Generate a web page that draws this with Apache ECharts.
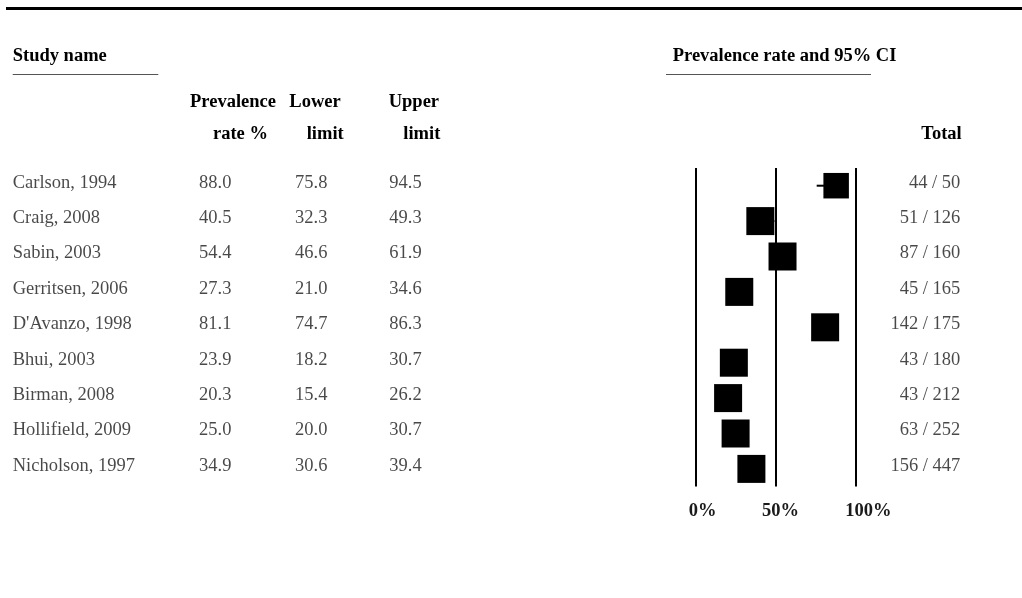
<!DOCTYPE html>
<html>
<head>
<meta charset="utf-8">
<script src="https://cdn.jsdelivr.net/npm/echarts@6/dist/echarts.min.js"></script>
<style>
  html, body { margin: 0; padding: 0; background: #fff; }
  #chart { width: 1022px; height: 598px; }
</style>
</head>
<body>
<div id="chart"></div>
<script>
// Prevalence meta-analysis: one row per study
const studies = ['Carlson, 1994', 'Craig, 2008', 'Sabin, 2003', 'Gerritsen, 2006', "D'Avanzo, 1998",
                 'Bhui, 2003', 'Birman, 2008', 'Hollifield, 2009', 'Nicholson, 1997'];
const rates = [88.0, 40.5, 54.4, 27.3, 81.1, 23.9, 20.3, 25.0, 34.9];
const lowerLimits = [75.8, 32.3, 46.6, 21.0, 74.7, 18.2, 15.4, 20.0, 30.6];
const upperLimits = [94.5, 49.3, 61.9, 34.6, 86.3, 30.7, 26.2, 30.7, 39.4];
const events = [44, 51, 87, 45, 142, 43, 43, 63, 156];
const totals = [50, 126, 160, 165, 175, 180, 212, 252, 447];
const axisTicks = [0, 50, 100];

const SERIF = '"Liberation Serif", "Times New Roman", serif';
const FS = 18.5;
const rowIdx = studies.map((_, i) => i);

// box size follows the study's inverse-variance weight, capped
function boxSize(i) {
  const p = rates[i] / 100;
  const w = totals[i] / (p * (1 - p));
  return Math.min(28, 28 * w / 520);
}

// one text column of the table
function textColumn(xPos, texts, pos) {
  return {
    type: 'scatter', xAxisIndex: 1, yAxisIndex: 1,
    symbolSize: 0, silent: true,
    data: rowIdx.map(i => [xPos, i]),
    label: {
      show: true, position: pos || 'right', distance: 0,
      formatter: p => texts[p.dataIndex],
      fontFamily: SERIF, fontSize: FS, color: '#1a1a1a'
    }
  };
}

function hdr(text, x, y, align) {
  return {
    type: 'text', x: x, y: y, silent: true,
    style: { text: text, font: 'bold ' + FS + 'px ' + SERIF, fill: '#000',
             align: align || 'left', verticalAlign: 'middle' }
  };
}

const labelShift = { 0: 14, 50: 10, 100: 26 };

const option = {
  animation: false,
  backgroundColor: '#fff',
  grid: [
    { left: 695.7, width: 159.6, top: 168, height: 318.6 },
    { left: 0, right: 0, top: 165, height: 318.6 }
  ],
  xAxis: [
    {
      type: 'value', gridIndex: 0, min: 0, max: 100, interval: 50,
      axisLine: { show: false }, axisTick: { show: false },
      splitLine: { show: true, lineStyle: { color: '#000', width: 2 } },
      axisLabel: {
        margin: 15,
        formatter: v => '{s' + v + '|' + v + '%}',
        rich: Object.fromEntries(axisTicks.map(t => ['s' + t, {
          fontFamily: SERIF, fontSize: FS, fontWeight: 'bold', color: '#1a1a1a',
          padding: [0, 0, 0, labelShift[t]]
        }]))
      }
    },
    { type: 'value', gridIndex: 1, min: 0, max: 1022, show: false }
  ],
  yAxis: [
    { type: 'category', gridIndex: 0, data: studies, inverse: true, show: false },
    { type: 'category', gridIndex: 1, data: studies, inverse: true, show: false }
  ],
  graphic: [
    { type: 'line', silent: true, shape: { x1: 6, y1: 8.5, x2: 1022, y2: 8.5 },
      style: { stroke: '#000', lineWidth: 3 } },
    hdr('Study name', 12.7, 56.5),
    { type: 'line', silent: true, shape: { x1: 12.7, y1: 74.5, x2: 158.3, y2: 74.5 },
      style: { stroke: '#555', lineWidth: 1 } },
    hdr('Prevalence', 190, 102),
    hdr('rate %', 213, 134),
    hdr('Lower', 289.3, 102),
    hdr('limit', 306.7, 134),
    hdr('Upper', 388.7, 102),
    hdr('limit', 403.3, 134),
    hdr('Prevalence rate and 95% CI', 672.7, 56.5),
    { type: 'line', silent: true, shape: { x1: 666, y1: 74.5, x2: 871, y2: 74.5 },
      style: { stroke: '#555', lineWidth: 1 } },
    hdr('Total', 961.7, 134, 'right')
  ],
  series: [
    // confidence interval whiskers
    {
      type: 'custom', xAxisIndex: 0, yAxisIndex: 0, silent: true,
      data: rowIdx.map(i => [i, lowerLimits[i], upperLimits[i]]),
      encode: { x: [1, 2], y: 0 },
      renderItem: (params, api) => {
        const a = api.coord([api.value(1), api.value(0)]);
        const b = api.coord([api.value(2), api.value(0)]);
        return { type: 'line', shape: { x1: a[0], y1: a[1], x2: b[0], y2: b[1] },
                 style: { stroke: '#000', lineWidth: 2 } };
      },
      z: 2
    },
    // point estimates
    {
      type: 'scatter', xAxisIndex: 0, yAxisIndex: 0, silent: true,
      symbol: 'rect',
      data: rates.map((r, i) => [r, i]),
      symbolSize: (v, p) => boxSize(p.dataIndex),
      itemStyle: { color: '#000', opacity: 1 },
      z: 3
    },
    textColumn(12.7, studies),
    textColumn(199, rates.map(v => v.toFixed(1))),
    textColumn(295, lowerLimits.map(v => v.toFixed(1))),
    textColumn(389.3, upperLimits.map(v => v.toFixed(1))),
    textColumn(960.3, events.map((e, i) => e + ' / ' + totals[i]), 'left')
  ]
};

const chart = echarts.init(document.getElementById('chart'), null, { renderer: 'canvas' });
chart.setOption(option);
</script>
</body>
</html>
